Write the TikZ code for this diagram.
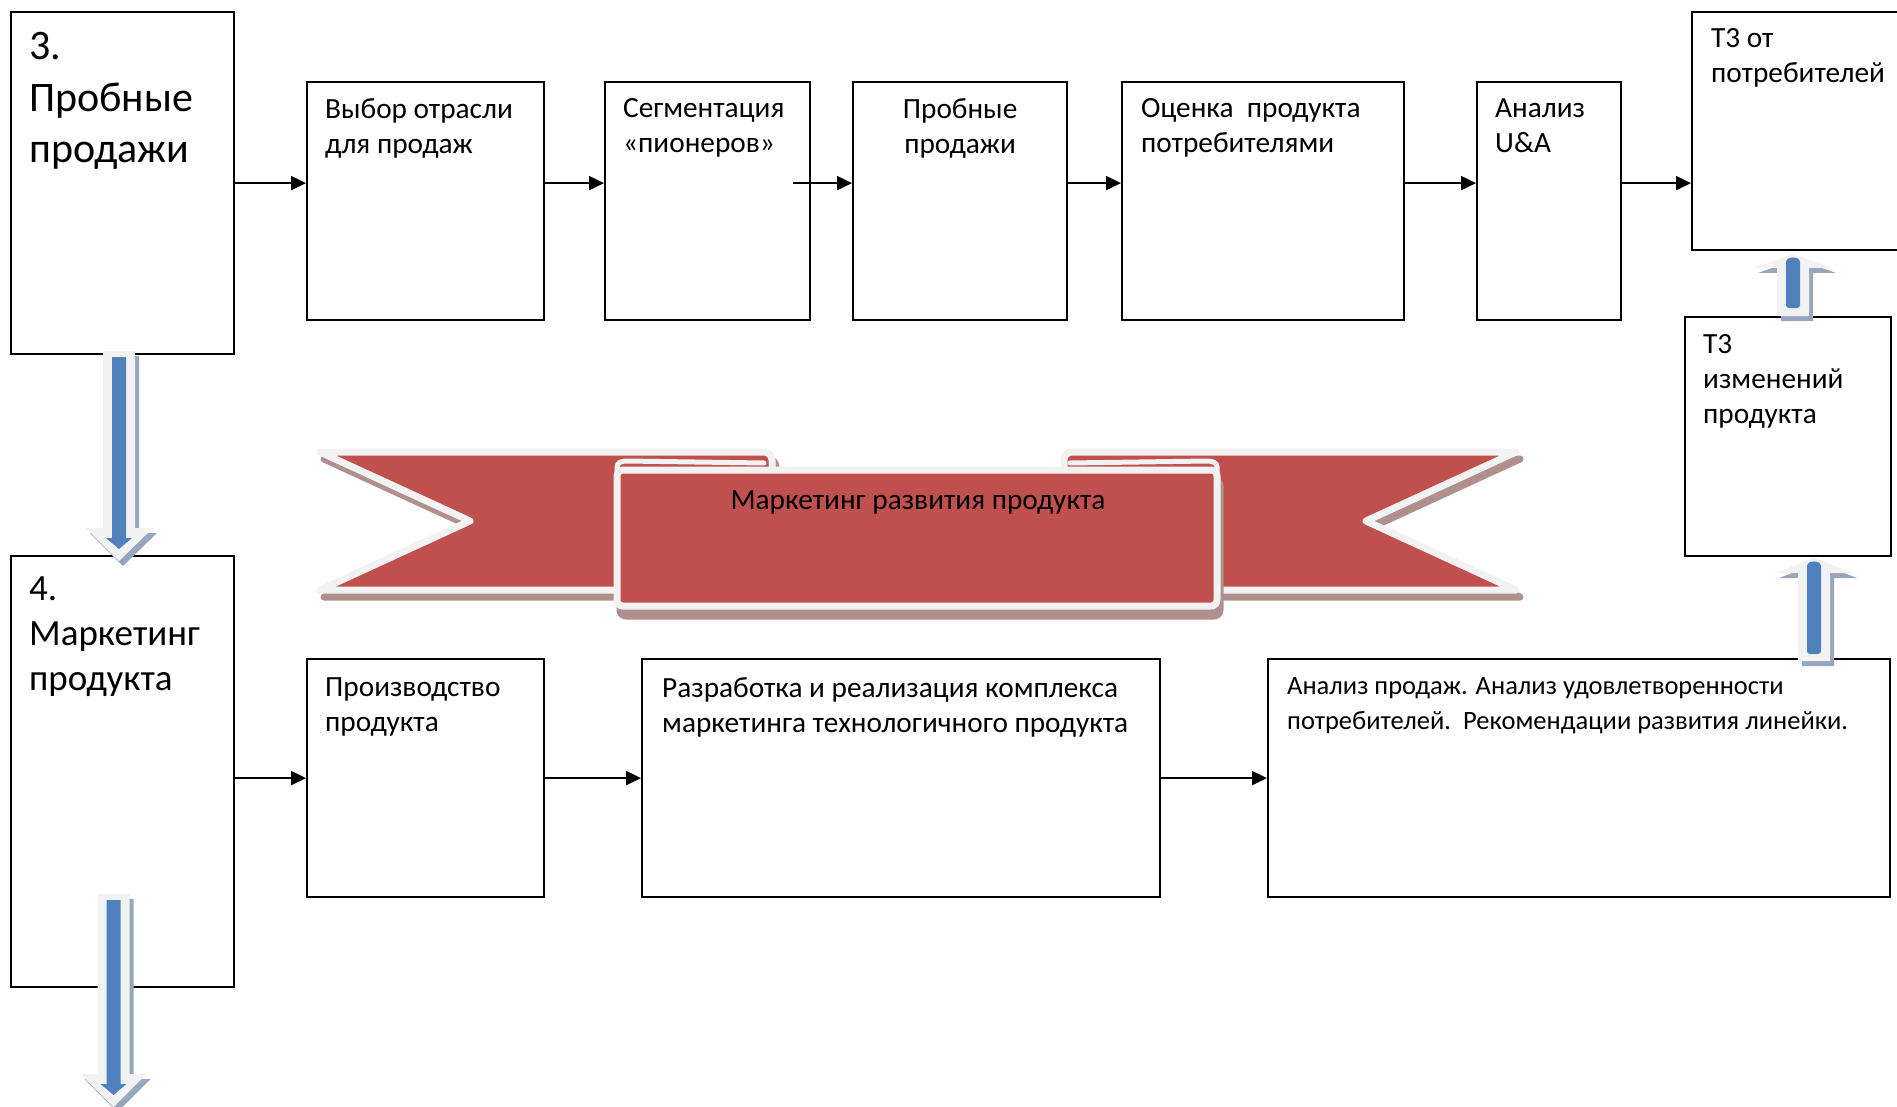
\documentclass[tikz,border=0pt]{standalone}
\usepackage{fontspec}
\setmainfont{Carlito}
\usetikzlibrary{arrows.meta,positioning}

\definecolor{ribred}{HTML}{C0504D}
\definecolor{ribshade}{HTML}{B08F8F}
\definecolor{paleedge}{HTML}{F2F2F2}
\definecolor{arrblue}{HTML}{4F81BD}
\definecolor{arrshade}{HTML}{97A6BC}

\tikzset{
    stage/.style={draw, line width=2.2pt, anchor=north west, inner sep=0pt,
        minimum height=238pt},
    txt/.style={inner sep=0pt, align=left, font=\fontsize{29.3}{35}\selectfont,
        execute at begin node=\strut},
    bigtxt/.style={txt, font=\fontsize{42}{51.5}\selectfont},
    midtxt/.style={txt, font=\fontsize{37}{45}\selectfont},
    smalltxt/.style={txt, font=\fontsize{26.5}{35}\selectfont},
    conn/.style={-{Triangle[length=15pt,width=14pt]}, line width=2.2pt},
    ribbon/.style={fill=ribred, draw=paleedge, line width=7pt, line join=round},
    ribfold/.style={draw=paleedge, line width=5pt, line cap=round},
    ribshadow/.style={fill=ribshade, draw=ribshade, line width=7pt, line join=round},
    arrowrim/.style={fill=paleedge},
    arrowcore/.style={fill=arrblue},
    arrowshadow/.style={fill=arrshade},
}

\begin{document}
\begin{tikzpicture}[x=1pt, y=1pt]
    \useasboundingbox (0,0) rectangle (1897,-1107);

    % banner
    \filldraw[ribshadow, shift={(4,-7)}]
        (320,-452) -- (764,-452) to[out=0,in=90] (772,-460)
        -- (772,-590) -- (320,-590) -- (470,-521) -- cycle;
    \filldraw[ribshadow, shift={(4,-7)}]
        (1516,-452) -- (1072,-452) to[out=180,in=90] (1064,-460)
        -- (1064,-590) -- (1516,-590) -- (1366,-521) -- cycle;
    \filldraw[ribbon]
        (320,-452) -- (764,-452) to[out=0,in=90] (772,-460)
        -- (772,-590) -- (320,-590) -- (470,-521) -- cycle;
    \filldraw[ribbon]
        (1516,-452) -- (1072,-452) to[out=180,in=90] (1064,-460)
        -- (1064,-590) -- (1516,-590) -- (1366,-521) -- cycle;
    \filldraw[ribshadow, rounded corners=6pt, shift={(3,-10)}]
        (617,-470) -- (617,-606) -- (1217,-606) -- (1217,-470) -- cycle;
    \filldraw[ribbon, rounded corners=6pt]
        (617,-470) -- (617,-606) -- (1217,-606) -- (1217,-470) -- cycle;
    \draw[ribfold] (617,-472) -- (617,-467) to[out=90,in=180] (626,-461) -- (764,-463);
    \draw[ribfold] (1217,-472) -- (1217,-467) to[out=90,in=0] (1208,-461) -- (1070,-463);
    \node[font=\fontsize{29.3}{35}\selectfont, anchor=base] (bannerT) at (918,-509)
        {Маркетинг развития продукта};

    % stage 3 row
    \node[stage, minimum width=223pt, minimum height=342pt] (box3) at (10,-11) {};
    \node[stage, minimum width=237pt] (vybor) at (306,-81) {};
    \node[stage, minimum width=205pt] (segm) at (604,-81) {};
    \node[stage, minimum width=214pt] (probn) at (852,-81) {};
    \node[stage, minimum width=282pt] (ocenka) at (1121,-81) {};
    \node[stage, minimum width=144pt] (ua) at (1476,-81) {};
    \node[stage, minimum width=230pt] (tzot) at (1691,-11) {};
    \node[stage, minimum width=206pt, minimum height=239pt] (tzizm) at (1684,-316) {};

    \node[bigtxt, below right=21.5pt and 19pt of box3.north west] (box3T) {3.\\Пробные\\продажи};
    \node[txt, below right=17.5pt and 19pt of vybor.north west] (vyborT) {Выбор отрасли\\для продаж};
    \node[txt, below right=17.5pt and 19pt of segm.north west] (segmT) {Сегментация\\«пионеров»};
    \node[txt, align=center, below=17.5pt of probn.north] (probnT) {Пробные\\продажи};
    \node[txt, below right=17.5pt and 20pt of ocenka.north west] (ocenkaT) {Оценка\ \ продукта\\потребителями};
    \node[txt, below right=17.5pt and 19pt of ua.north west] (uaT) {Анализ\\U\&A};
    \node[txt, below right=17.5pt and 20pt of tzot.north west] (tzotT) {Т3 от\\потребителей};
    \node[txt, below right=18.5pt and 19pt of tzizm.north west] (tzizmT) {Т3\\изменений\\продукта};

    % stage 4 row
    \node[stage, minimum width=223pt, minimum height=431pt] (box4) at (10,-555) {};
    \node[stage, minimum width=237pt] (proizv) at (306,-658) {};
    \node[stage, minimum width=518pt] (razrab) at (641,-658) {};
    \node[stage, minimum width=622pt] (analiz) at (1267,-658) {};

    \node[midtxt, below right=22pt and 19pt of box4.north west] (box4T) {4.\\Маркетинг\\продукта};
    \node[txt, below right=19pt and 19pt of proizv.north west] (proizvT) {Производство\\продукта};
    \node[txt, below right=19pt and 21pt of razrab.north west] (razrabT)
        {Разработка и реализация комплекса\\маркетинга технологичного продукта};
    \node[smalltxt, below right=19.5pt and 20pt of analiz.north west] (analizT)
        {Анализ продаж. Анализ удовлетворенности\\потребителей.\ \ Рекомендации развития линейки.};

    % connectors
    \coordinate (segout) at ([xshift=-18pt]segm.east |- box3.east);
    \draw[conn] (box3.east) -- (box3.east -| vybor.west);
    \draw[conn] (vybor.east |- box3.east) -- (segm.west |- box3.east);
    \draw[conn] (segout) -- (probn.west |- segout);
    \draw[conn] (probn.east |- box3.east) -- (ocenka.west |- box3.east);
    \draw[conn] (ocenka.east |- box3.east) -- (ua.west |- box3.east);
    \draw[conn] (ua.east |- box3.east) -- (tzot.west |- box3.east);
    \draw[conn] (box4.east |- proizv.west) -- (proizv.west);
    \draw[conn] (proizv.east) -- (razrab.west);
    \draw[conn] (razrab.east) -- (analiz.west);

    % block arrows
    \fill[arrowshadow, shift={(4,-5)}] (103,-351) -- (135,-351) -- (135,-528) -- (153,-528)
        -- (119,-561) -- (86,-528) -- (103,-528) -- cycle;
    \fill[arrowrim] (103,-351) -- (135,-351) -- (135,-528) -- (153,-528)
        -- (119,-561) -- (86,-528) -- (103,-528) -- cycle;
    \fill[arrowcore] (112,-357) -- (126,-357) -- (126,-538) -- (132,-538)
        -- (119,-549) -- (106,-538) -- (112,-538) -- cycle;

    \fill[arrowshadow, shift={(4,-5)}] (97.5,-894) -- (129.5,-894) -- (129.5,-1074) -- (146.5,-1074)
        -- (113.5,-1107) -- (80.5,-1074) -- (97.5,-1074) -- cycle;
    \fill[arrowrim] (97.5,-894) -- (129.5,-894) -- (129.5,-1074) -- (146.5,-1074)
        -- (113.5,-1107) -- (80.5,-1074) -- (97.5,-1074) -- cycle;
    \fill[arrowcore] (106.5,-900) -- (120.5,-900) -- (120.5,-1084) -- (126.5,-1084)
        -- (113.5,-1095) -- (100.5,-1084) -- (106.5,-1084) -- cycle;

    \fill[arrowshadow, shift={(4,-5)}] (1777,-316) -- (1777,-268) -- (1754,-268) -- (1793,-254)
        -- (1832,-268) -- (1809,-268) -- (1809,-316) -- cycle;
    \fill[arrowrim] (1777,-316) -- (1777,-268) -- (1754,-268) -- (1793,-254)
        -- (1832,-268) -- (1809,-268) -- (1809,-316) -- cycle;
    \fill[arrowcore, rounded corners=3pt] (1786,-308) -- (1786,-259) -- (1793,-257)
        -- (1800,-259) -- (1800,-308) -- cycle;

    \fill[arrowshadow, shift={(4,-5)}] (1798,-661) -- (1798,-573) -- (1775,-573) -- (1814,-558)
        -- (1853,-573) -- (1830,-573) -- (1830,-661) -- cycle;
    \fill[arrowrim] (1798,-661) -- (1798,-573) -- (1775,-573) -- (1814,-558)
        -- (1853,-573) -- (1830,-573) -- (1830,-661) -- cycle;
    \fill[arrowcore, rounded corners=3pt] (1807,-654) -- (1807,-563) -- (1814,-561)
        -- (1821,-563) -- (1821,-654) -- cycle;
\end{tikzpicture}
\end{document}
